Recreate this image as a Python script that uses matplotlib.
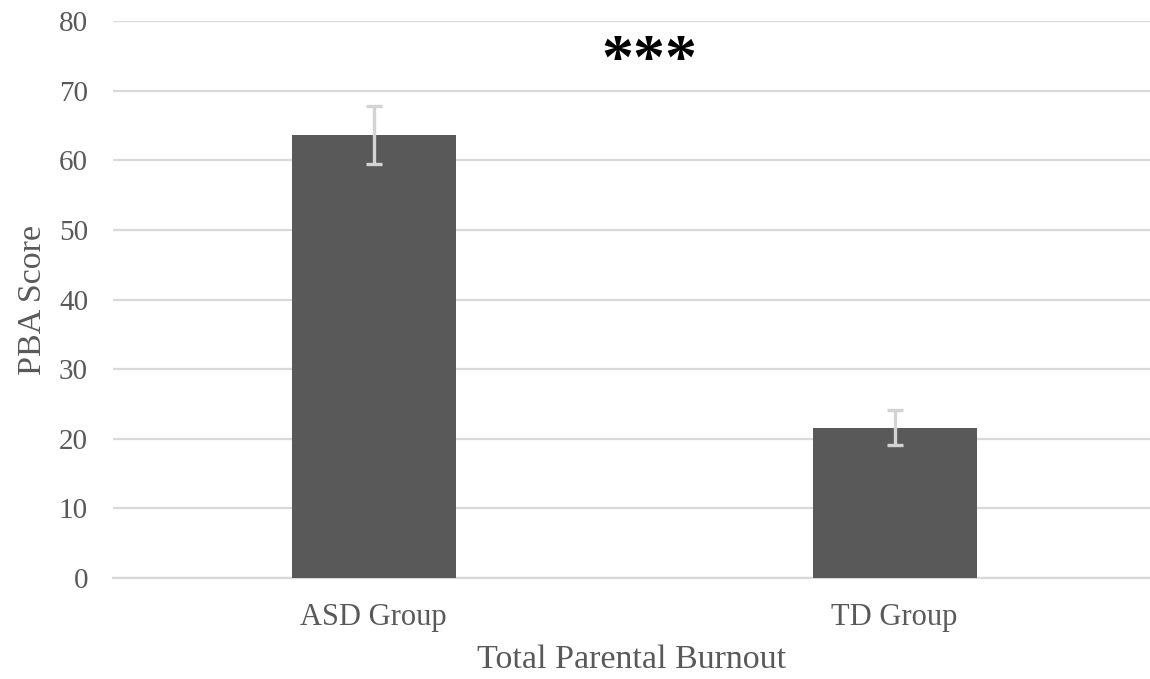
import matplotlib
matplotlib.use('Agg')
import matplotlib.pyplot as plt
import numpy as np

groups = ['ASD Group', 'TD Group']
pba_means = [63.6, 21.6]
pba_errors = [4.2, 2.5]
y_ticks = list(range(0, 81, 10))

text_grey = '#595959'
plt.rcParams['font.family'] = ['Liberation Serif', 'DejaVu Serif']

fig = plt.figure(figsize=(11.5, 6.79), dpi=100)
ax = fig.add_axes([0.0983, 0.1487, 0.9017, 0.8203])

x = np.arange(len(groups))
ax.bar(x, pba_means, width=0.315, color='#595959', zorder=3)
ax.errorbar(x, pba_means, yerr=pba_errors, fmt='none', ecolor='#d3d3d3',
            elinewidth=2.4, capsize=5.5, capthick=2.4, zorder=4)

ax.set_xlim(-0.5, 1.49)
ax.set_ylim(0, 80)
ax.set_yticks(y_ticks)
ax.set_xticks(x)
ax.set_xticklabels(groups)
ax.yaxis.grid(True, color='#d9d9d9', linewidth=1.6, zorder=0)
ax.set_axisbelow(True)

for side in ['top', 'right', 'left']:
    ax.spines[side].set_visible(False)
ax.spines['bottom'].set_color('#d9d9d9')
ax.spines['bottom'].set_linewidth(1.6)
ax.tick_params(axis='y', length=0, labelsize=21, colors=text_grey, pad=18)
ax.tick_params(axis='x', length=0, labelsize=22, colors=text_grey, pad=18)

ax.set_ylabel('PBA Score', fontsize=24.5, color=text_grey, labelpad=8)
ax.set_xlabel('Total Parental Burnout', fontsize=24.5, color=text_grey, labelpad=9)

ax.text(0.53, 74.0, '***', ha='center', va='center', fontsize=46,
        fontweight='bold', color='black')

fig.savefig('out.png', dpi=100)
